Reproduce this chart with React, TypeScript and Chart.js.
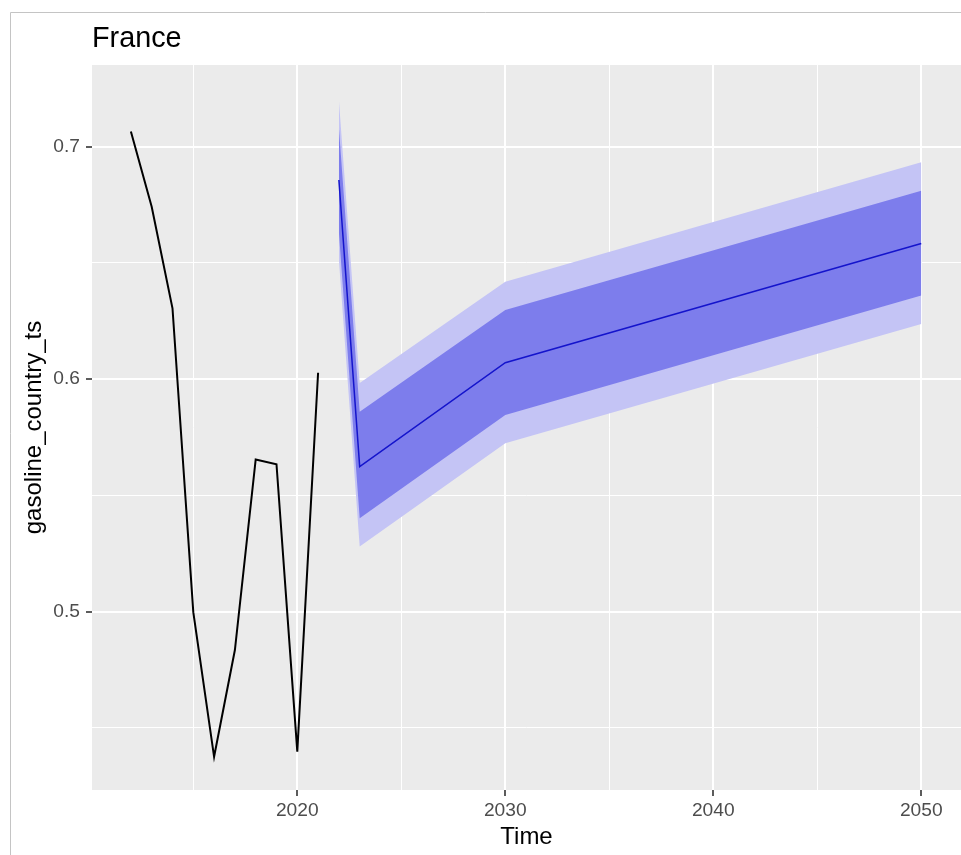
import React, { useEffect, useRef } from 'react';
import { Chart, registerables } from 'chart.js';

Chart.register(...registerables);

// Observed series
const histYears = [2012, 2013, 2014, 2015, 2016, 2017, 2018, 2019, 2020, 2021];
const histValues = [0.7065, 0.6742, 0.6305, 0.4998, 0.4376, 0.4835, 0.5655, 0.5634, 0.4398, 0.6028];

// Forecast with 80% and 95% intervals
const fcYears = [2022, 2023, 2030, 2050];
const fcMean = [0.6857, 0.5624, 0.6071, 0.6584];
const fcLo80 = [0.6632, 0.5402, 0.5846, 0.636];
const fcHi80 = [0.7082, 0.586, 0.6298, 0.681];
const fcLo95 = [0.6514, 0.528, 0.5724, 0.6237];
const fcHi95 = [0.72, 0.5984, 0.6419, 0.6933];

// Axis ticks (all drawn as grid lines, only some labelled)
const xTicks = [2015, 2020, 2025, 2030, 2035, 2040, 2045, 2050];
const xLabelled = [2020, 2030, 2040, 2050];
const yTicks = [0.45, 0.5, 0.55, 0.6, 0.65, 0.7];
const yLabelled = [0.5, 0.6, 0.7];

const FONT = "'Liberation Sans', Arial, Helvetica, sans-serif";

const pts = (xs: number[], ys: number[]) => xs.map((x, i) => ({ x, y: ys[i] }));
const isLabelled = (list: number[], v: number) => list.some((m) => Math.abs(m - v) < 1e-9);

const panelPlugin = {
  id: 'panelBackground',
  beforeDraw(chart: any) {
    const { ctx, chartArea, width, height } = chart;
    ctx.save();
    ctx.fillStyle = '#ffffff';
    ctx.fillRect(0, 0, width, height);
    // frame around the figure
    ctx.strokeStyle = '#c4c4c4';
    ctx.lineWidth = 1;
    ctx.beginPath();
    ctx.moveTo(10.5, height);
    ctx.lineTo(10.5, 12.5);
    ctx.lineTo(width, 12.5);
    ctx.stroke();
    ctx.fillStyle = '#ebebeb';
    ctx.fillRect(chartArea.left, chartArea.top, chartArea.right - chartArea.left, chartArea.bottom - chartArea.top);
    ctx.restore();
  },
};

export default function App() {
  const canvasRef = useRef<HTMLCanvasElement | null>(null);

  useEffect(() => {
    if (!canvasRef.current) return;
    const chart = new Chart(canvasRef.current, {
      type: 'line',
      data: {
        datasets: [
          {
            label: 'lo95',
            data: pts(fcYears, fcLo95),
            borderColor: 'rgba(0,0,0,0)',
            borderWidth: 0,
            pointRadius: 0,
            fill: false,
            order: 5,
          },
          {
            label: 'hi95',
            data: pts(fcYears, fcHi95),
            borderColor: 'rgba(0,0,0,0)',
            borderWidth: 0,
            pointRadius: 0,
            backgroundColor: '#c4c4f5',
            fill: '-1',
            order: 4,
          },
          {
            label: 'lo80',
            data: pts(fcYears, fcLo80),
            borderColor: 'rgba(0,0,0,0)',
            borderWidth: 0,
            pointRadius: 0,
            fill: false,
            order: 3,
          },
          {
            label: 'hi80',
            data: pts(fcYears, fcHi80),
            borderColor: 'rgba(0,0,0,0)',
            borderWidth: 0,
            pointRadius: 0,
            backgroundColor: '#7d7dec',
            fill: '-1',
            order: 2,
          },
          {
            label: 'mean',
            data: pts(fcYears, fcMean),
            borderColor: '#1414cc',
            borderWidth: 1.5,
            pointRadius: 0,
            fill: false,
            order: 1,
          },
          {
            label: 'gasoline_country_ts',
            data: pts(histYears, histValues),
            borderColor: '#000000',
            borderWidth: 2,
            pointRadius: 0,
            fill: false,
            order: 0,
          },
        ],
      },
      options: {
        animation: false,
        responsive: false,
        maintainAspectRatio: false,
        parsing: false as any,
        layout: { padding: 0 },
        elements: { line: { tension: 0 } },
        plugins: {
          legend: { display: false },
          tooltip: { enabled: false },
          title: {
            display: true,
            text: 'France',
            align: 'start',
            fullSize: false,
            color: '#000000',
            font: { family: FONT, size: 28.8, weight: 'normal' },
            padding: { top: 22, bottom: 8.44 },
          },
        },
        scales: {
          x: {
            type: 'linear',
            min: 2010.13,
            max: 2051.91,
            afterBuildTicks: (scale: any) => {
              scale.ticks = xTicks.map((v) => ({ value: v }));
            },
            afterFit: (scale: any) => {
              scale.height = 65;
            },
            ticks: {
              autoSkip: false,
              maxRotation: 0,
              padding: 3.5,
              color: '#4d4d4d',
              font: { family: FONT, size: 19.2 },
              callback: (v: any) => (isLabelled(xLabelled, Number(v)) ? String(v) : ''),
            },
            grid: {
              color: '#ffffff',
              lineWidth: (ctx: any) => (ctx.tick && isLabelled(xLabelled, ctx.tick.value) ? 2 : 1),
              drawTicks: true,
              tickLength: 6,
              tickWidth: 1.6,
              tickColor: (ctx: any) =>
                ctx.tick && isLabelled(xLabelled, ctx.tick.value) ? '#333333' : 'rgba(0,0,0,0)',
            },
            border: { display: false },
            title: {
              display: true,
              text: 'Time',
              color: '#000000',
              font: { family: FONT, size: 24 },
              padding: { top: 0, bottom: 3 },
            },
          },
          y: {
            type: 'linear',
            min: 0.42331,
            max: 0.73514,
            afterBuildTicks: (scale: any) => {
              scale.ticks = yTicks.map((v) => ({ value: v }));
            },
            afterFit: (scale: any) => {
              scale.width = 92;
            },
            ticks: {
              autoSkip: false,
              padding: 6,
              color: '#4d4d4d',
              font: { family: FONT, size: 19.2 },
              callback: (v: any) => (isLabelled(yLabelled, Number(v)) ? Number(v).toFixed(1) : ''),
            },
            grid: {
              color: '#ffffff',
              lineWidth: (ctx: any) => (ctx.tick && isLabelled(yLabelled, ctx.tick.value) ? 2 : 1),
              drawTicks: true,
              tickLength: 6,
              tickWidth: 1.6,
              tickColor: (ctx: any) =>
                ctx.tick && isLabelled(yLabelled, ctx.tick.value) ? '#333333' : 'rgba(0,0,0,0)',
            },
            border: { display: false },
            title: {
              display: true,
              text: 'gasoline_country_ts',
              color: '#000000',
              font: { family: FONT, size: 24 },
              padding: { top: 20, bottom: 0 },
            },
          },
        },
      },
      plugins: [panelPlugin],
    } as any);
    return () => chart.destroy();
  }, []);

  return (
    <div style={{ position: 'fixed', left: 0, top: 0, width: 961, height: 855, background: '#ffffff' }}>
      <canvas ref={canvasRef} width={961} height={855} style={{ width: 961, height: 855, display: 'block' }} />
    </div>
  );
}
